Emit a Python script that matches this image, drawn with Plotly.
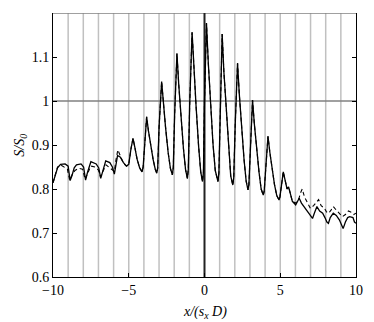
import plotly.graph_objects as go

# solid curve
x_solid = [-10.0, -9.85, -9.7, -9.5, -9.2, -9.0, -8.87, -8.75, -8.6, -8.45, -8.15, -7.98, -7.85, -7.72,
           -7.5, -7.15, -6.98, -6.85, -6.7, -6.52, -6.25, -6.08, -5.95, -5.85, -5.74, -5.55, -5.35,
           -5.15, -5.0, -4.85, -4.72, -4.6, -4.45, -4.28, -4.12, -4.05, -3.95, -3.82,
           -3.7, -3.56, -3.39, -3.25, -3.15, -3.09, -3.0, -2.83,
           -2.71, -2.57, -2.4, -2.25, -2.12, -2.06, -1.97, -1.82,
           -1.7, -1.56, -1.39, -1.25, -1.13, -1.07, -0.98, -0.82,
           -0.7, -0.56, -0.39, -0.25, -0.13, -0.07, 0.0, 0.13,
           0.25, 0.39, 0.56, 0.71, 0.89, 0.95, 1.04, 1.165,
           1.28, 1.42, 1.59, 1.73, 1.87, 1.93, 2.03, 2.18,
           2.3, 2.44, 2.61, 2.75, 2.87, 2.93, 3.03, 3.17,
           3.29, 3.43, 3.6, 3.74, 3.88, 3.94, 4.04, 4.14, 4.19,
           4.31, 4.45, 4.62, 4.77, 4.92, 4.98, 5.08, 5.2,
           5.32, 5.45, 5.55, 5.65, 5.8, 6.02, 6.12, 6.25,
           6.4, 6.6, 6.8, 6.95, 7.13, 7.25, 7.42,
           7.6, 7.8, 7.95, 8.08, 8.18, 8.3, 8.5,
           8.7, 8.9, 9.05, 9.15, 9.3, 9.45, 9.58, 9.8, 9.9, 10.0]
s_solid = [0.814, 0.83, 0.848, 0.856, 0.857, 0.852, 0.819, 0.83, 0.848, 0.855, 0.857, 0.85, 0.82, 0.838,
           0.862, 0.857, 0.848, 0.824, 0.845, 0.864, 0.86, 0.85, 0.834, 0.856, 0.876, 0.872, 0.86,
           0.852, 0.856, 0.892, 0.915, 0.895, 0.868, 0.848, 0.839, 0.85, 0.9, 0.964,
           0.932, 0.9, 0.867, 0.845, 0.836, 0.848, 0.94, 1.044,
           0.99, 0.94, 0.883, 0.847, 0.832, 0.849, 0.97, 1.108,
           1.037, 0.969, 0.892, 0.844, 0.824, 0.844, 0.99, 1.156,
           1.071, 0.99, 0.898, 0.839, 0.817, 0.839, 1.0, 1.177,
           1.087, 1.0, 0.903, 0.842, 0.817, 0.837, 0.985, 1.152,
           1.066, 0.984, 0.891, 0.83, 0.809, 0.826, 0.948, 1.086,
           1.014, 0.945, 0.867, 0.818, 0.798, 0.81, 0.9, 1.002,
           0.948, 0.896, 0.838, 0.8, 0.786, 0.795, 0.855, 0.918, 0.92,
           0.884, 0.85, 0.81, 0.785, 0.775, 0.782, 0.81, 0.839,
           0.82, 0.8, 0.805, 0.79, 0.772, 0.764, 0.77, 0.779,
           0.768, 0.758, 0.75, 0.74, 0.733, 0.745, 0.76,
           0.75, 0.745, 0.735, 0.725, 0.722, 0.735, 0.745,
           0.74, 0.73, 0.715, 0.71, 0.725, 0.735, 0.737, 0.735, 0.725, 0.722]

# dashed curve: differs at both ends, follows the solid one in the middle
x_dash_left = [-10.0, -9.85, -9.7, -9.5, -9.3, -9.05, -8.9, -8.75, -8.55, -8.3, -8.05, -7.88, -7.72,
               -7.5, -7.2, -7.0, -6.87, -6.7, -6.5, -6.25, -6.05, -5.95, -5.85, -5.72, -5.55, -5.35]
s_dash_left = [0.814, 0.835, 0.85, 0.855, 0.85, 0.845, 0.82, 0.832, 0.842, 0.847, 0.845, 0.822, 0.835,
               0.852, 0.85, 0.843, 0.828, 0.84, 0.855, 0.848, 0.842, 0.84, 0.865, 0.889, 0.875, 0.858]
x_dash_right = [6.02, 6.2, 6.35, 6.45, 6.6, 6.8, 6.99, 7.2, 7.4, 7.53, 7.7, 7.9, 8.05, 8.2, 8.35,
                8.5, 8.7, 8.9, 9.1, 9.3, 9.5, 9.65, 9.85, 10.0]
s_dash_right = [0.768, 0.775, 0.792, 0.8, 0.782, 0.77, 0.756, 0.762, 0.77, 0.776, 0.762, 0.757, 0.748,
                0.745, 0.752, 0.76, 0.752, 0.745, 0.737, 0.742, 0.75, 0.748, 0.742, 0.745]

mid = [i for i, x in enumerate(x_solid) if -5.2 < x < 5.9]
x_dash = x_dash_left + [x_solid[i] for i in mid] + x_dash_right
s_dash = s_dash_left + [s_solid[i] for i in mid] + s_dash_right

x_ticks = [-10, -5, 0, 5, 10]
y_ticks = [0.6, 0.7, 0.8, 0.9, 1.0, 1.1]
y_tick_text = ['0.6', '0.7', '0.8', '0.9', '1', '1.1']
grid_x = [g for g in range(-9, 10) if g != 0]

fig = go.Figure()

fig.add_trace(go.Scatter(x=x_dash, y=s_dash, mode='lines',
                         line=dict(color='black', width=1.1, dash='4px,3px'), showlegend=False))
fig.add_trace(go.Scatter(x=x_solid, y=s_solid, mode='lines',
                         line=dict(color='black', width=1.3), showlegend=False))

# light vertical lines at each integer, dark ones at x=0 and S/S0=1
for g in grid_x:
    fig.add_shape(type='line', x0=g, x1=g, y0=0.6, y1=1.2, xref='x', yref='y',
                  line=dict(color='#c0c0c0', width=1.5), layer='below')
fig.add_shape(type='line', x0=-10, x1=10, y0=1, y1=1, xref='x', yref='y',
              line=dict(color='#808080', width=1.5), layer='below')
fig.add_shape(type='line', x0=-10, x1=10, y0=1.2, y1=1.2, xref='x', yref='y',
              line=dict(color='#808080', width=1.5), layer='below')
fig.add_shape(type='line', x0=0, x1=0, y0=0.6, y1=1.2, xref='x', yref='y',
              line=dict(color='#222222', width=2), layer='below')

font = dict(family='Liberation Serif, Times New Roman, serif', size=14, color='black')

fig.update_xaxes(range=[-10, 10], tickvals=x_ticks, ticks='inside', ticklen=4, tickcolor='black',
                 showline=True, linecolor='black', linewidth=1, showgrid=False, zeroline=False,
                 tickfont=font)
fig.update_yaxes(range=[0.6, 1.2], tickvals=y_ticks, ticktext=y_tick_text, ticks='inside', ticklen=4,
                 tickcolor='black', showline=True, linecolor='black', linewidth=1, mirror='ticks',
                 showgrid=False, zeroline=False, tickfont=font)

fig.add_annotation(text='<i>x/(s<sub>x</sub> D)</i>', x=0.5, y=-0.095, xref='paper', yref='paper',
                   xanchor='center', yanchor='top', showarrow=False, font=font)
fig.add_annotation(text='<i>S/S<sub>0</sub></i>', x=-0.11, y=0.5, xref='paper', yref='paper',
                   xanchor='center', yanchor='middle', textangle=-90, showarrow=False, font=font)

fig.update_layout(width=374, height=322, margin=dict(l=53, r=11, t=13, b=45),
                  paper_bgcolor='white', plot_bgcolor='white', font=font)

fig.write_html("out.html", config={'displayModeBar': False},
               post_script="document.body.style.margin='0';")
